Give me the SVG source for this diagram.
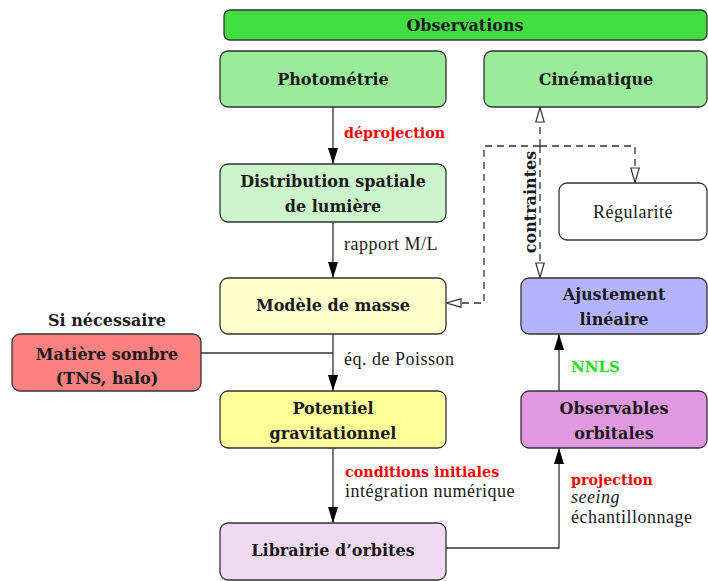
<svg xmlns="http://www.w3.org/2000/svg" width="708" height="581" viewBox="0 0 708 581">
<style>
.box{stroke:#333;stroke-width:1.3}
text{font-family:"DejaVu Serif","Liberation Serif",serif;fill:#1a1a1a}
.b{font-weight:bold;font-size:16px;text-anchor:middle}
.r{font-family:"Liberation Serif",serif;font-size:18px;letter-spacing:0.5px}
.red{fill:#ff0000;font-weight:bold;font-size:14.3px}
.grn{fill:#22dd22;font-weight:bold;font-size:15px}
.ln{fill:none;stroke:#333;stroke-width:1.3}
.dash{fill:none;stroke:#333;stroke-width:1.3;stroke-dasharray:7,5}
</style>
<defs>
<marker id="fa" viewBox="0 0 16 10" refX="16" refY="5" markerWidth="16" markerHeight="10" markerUnits="userSpaceOnUse" orient="auto"><path d="M0,0 L16,5 L0,10 Z" fill="#000"/></marker>
<marker id="oa" viewBox="0 0 16 10" refX="16" refY="5" markerWidth="16" markerHeight="10" markerUnits="userSpaceOnUse" orient="auto"><path d="M1,0.8 L15.5,5 L1,9.2 Z" fill="#fff" stroke="#333" stroke-width="1.2"/></marker>
</defs>
<g id="connectors">
<path class="ln" d="M333,107 V164" marker-end="url(#fa)"/>
<path class="ln" d="M333,222 V278" marker-end="url(#fa)"/>
<path class="ln" d="M333,334 V391" marker-end="url(#fa)"/>
<path class="ln" d="M201,353 H333"/>
<path class="ln" d="M333,448 V523" marker-end="url(#fa)"/>
<path class="ln" d="M446,548 H559 V448" marker-end="url(#fa)"/>
<path class="ln" d="M559,391 V334" marker-end="url(#fa)"/>
<path class="dash" d="M540,146 V107" marker-end="url(#oa)"/>
<path class="dash" d="M540,146 V278" marker-end="url(#oa)"/>
<path class="dash" d="M540,146 H635 V183" marker-end="url(#oa)"/>
<path class="dash" d="M540,146 H484 V303 H446" marker-end="url(#oa)"/>
<text class="red" x="344" y="138">déprojection</text>
<text class="r" x="344" y="250">rapport M/L</text>
<text class="r" x="344" y="365">éq. de Poisson</text>
<text class="red" x="345" y="477">conditions initiales</text>
<text class="r" x="345" y="497">intégration numérique</text>
<text class="red" x="571" y="485">projection</text>
<text class="r" x="571" y="503" font-style="italic">seeing</text>
<text class="r" x="571" y="523">échantillonnage</text>
<text class="grn" x="571" y="372">NNLS</text>
<text class="b" transform="translate(536,202) rotate(-90)" x="0" y="0" font-size="15px">contraintes</text>
</g>
<g id="observations"><rect class="box" x="224" y="10" width="483" height="30" rx="6" fill="#41dd41"/><text class="b" x="465" y="31">Observations</text></g>
<g id="photometrie"><rect class="box" x="220" y="51" width="226" height="56" rx="8" fill="#9aeb9a"/><text class="b" x="333" y="85">Photométrie</text></g>
<g id="cinematique"><rect class="box" x="484" y="51" width="223" height="56" rx="8" fill="#9aeb9a"/><text class="b" x="596" y="85">Cinématique</text></g>
<g id="distribution"><rect class="box" x="220" y="164" width="226" height="58" rx="8" fill="#ccf5cc"/><text class="b" x="333" y="187">Distribution spatiale</text><text class="b" x="333" y="212">de lumière</text></g>
<g id="regularite"><rect class="box" x="559" y="183" width="148" height="57" rx="8" fill="#fff"/><text class="r" x="633" y="218" text-anchor="middle" font-size="20px">Régularité</text></g>
<g id="modele"><rect class="box" x="220" y="278" width="226" height="56" rx="8" fill="#ffffcc"/><text class="b" x="333" y="311">Modèle de masse</text></g>
<g id="ajustement"><rect class="box" x="521" y="278" width="186" height="56" rx="8" fill="#b3b3ff"/><text class="b" x="614" y="300">Ajustement</text><text class="b" x="614" y="325">linéaire</text></g>
<g id="si-necessaire"><text class="b" x="107" y="326">Si nécessaire</text></g>
<g id="matiere"><rect class="box" x="12" y="334" width="189" height="57" rx="8" fill="#ff8080"/><text class="b" x="107" y="360">Matière sombre</text><text class="b" x="107" y="384">(TNS, halo)</text></g>
<g id="potentiel"><rect class="box" x="220" y="391" width="226" height="57" rx="8" fill="#ffff99"/><text class="b" x="333" y="414">Potentiel</text><text class="b" x="333" y="439">gravitationnel</text></g>
<g id="observables"><rect class="box" x="521" y="391" width="186" height="57" rx="8" fill="#e099e0"/><text class="b" x="614" y="414">Observables</text><text class="b" x="614" y="439">orbitales</text></g>
<g id="librairie"><rect class="box" x="220" y="523" width="226" height="57" rx="8" fill="#f2d9f2"/><text class="b" x="333" y="556">Librairie d’orbites</text></g>
</svg>
